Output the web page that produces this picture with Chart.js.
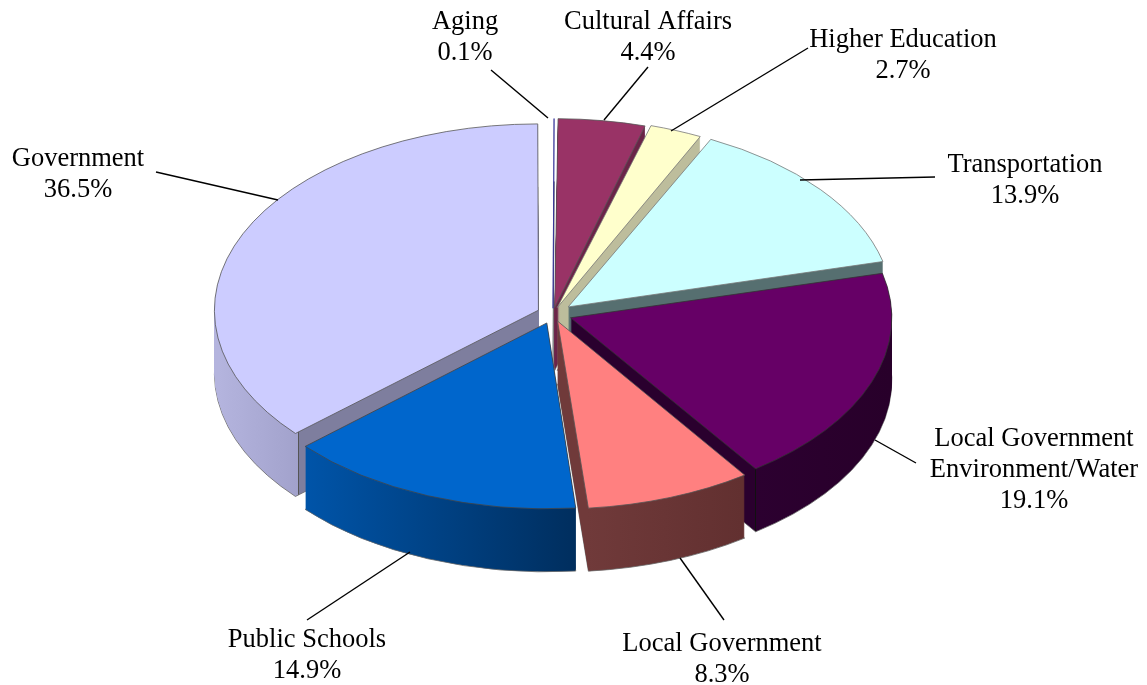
<!DOCTYPE html>
<html>
<head>
<meta charset="utf-8">
<title>Pie</title>
<script src="https://cdn.jsdelivr.net/npm/chart.js@4/dist/chart.umd.min.js"></script>
<style>
    html, body { margin: 0; padding: 0; background: #fff; }
    canvas { display: block; }
</style>
</head>
<body>
<canvas id="pie" width="1147" height="685"></canvas>
<script>
// data, clockwise from twelve o'clock
const categories = ['Aging', 'Cultural Affairs', 'Higher Education', 'Transportation',
    'Local Government\nEnvironment/Water', 'Local Government', 'Public Schools', 'Government'];
const shares = [0.1, 4.4, 2.7, 13.9, 19.1, 8.3, 14.9, 36.5];

// styling
const topColors = ['#333399', '#993366', '#FFFFCC', '#CCFFFF', '#660066', '#FF8080', '#0066CC', '#CCCCFF'];
const rimColors = ['#333399', '#555', '#777', '#777', '#333', '#555', '#444', '#555'];
const wallLight = ['#6a6a90', '#6b2448', '#bdbd9c', '#566f70', '#2c0030', '#703a3a', '#0054a8', '#b4b4de'];
const wallDark = ['#6a6a90', '#6b2448', '#bdbd9c', '#566f70', '#28002a', '#623030', '#002e5e', '#a2a2cc'];
const cutColors = ['#6a6a90', '#6b2448', '#bdbd9c', '#566f70', '#2a002e', null, null, '#7e7e9e'];
const cutEdges = ['#6a6a90', '#6b2448', '#bdbd9c', '#566f70', '#111', null, null, '#555'];
const explode = [40, 46, 48, 78, 75, 53, 67, 64];
const drawOrder = [0, 1, 2, 3, 7, 4, 6, 5];

const TILT = 0.575;
const DEPTH = 63;
const FONT = '26.5px "Liberation Serif"';
const LINE_HEIGHT = 31;

// label centre x, first line y, leader line from/to
const labelLayout = [
    { x: 465, y: 22, from: [491, 70], to: [548, 118] },
    { x: 648, y: 22, from: [648, 67], to: [604, 120] },
    { x: 903, y: 40, from: [808, 48], to: [671, 131] },
    { x: 1025, y: 165, from: [935, 177], to: [800, 180] },
    { x: 1034, y: 439, from: [916, 463], to: [875, 440] },
    { x: 722, y: 644, from: [724, 620], to: [680, 558] },
    { x: 307, y: 640, from: [307, 620], to: [410, 552] },
    { x: 78, y: 159, from: [156, 172], to: [278, 200] }
];

function wallFill(ctx, arc, i) {
    const R = arc.outerRadius, cx = arc.x;
    const xa = cx + R * Math.cos(arc.startAngle);
    const xb = cx + R * Math.cos(arc.endAngle);
    const cut = cutColors[i];
    let g;
    if (!cut) {
        g = ctx.createLinearGradient(Math.min(xa, xb), 0, Math.max(xa, xb), 0);
        g.addColorStop(0, wallLight[i]);
        g.addColorStop(1, wallDark[i]);
        return g;
    }
    // cut face on the inner side, curved wall on the outer side
    const mid = (arc.startAngle + arc.endAngle) / 2;
    const left = Math.cos(mid) < 0;
    const t = left ? (xa - cx + R) / R : (xb - cx) / R;
    const edge = 1.2 / R;
    const line = cutEdges[i];
    g = ctx.createLinearGradient(left ? cx - R : cx, 0, left ? cx : cx + R, 0);
    if (left) {
        g.addColorStop(0, wallLight[i]);
        g.addColorStop(Math.max(t - edge, 0), wallDark[i]);
        g.addColorStop(Math.max(t - edge, 0), line);
        g.addColorStop(t, line);
        g.addColorStop(t, cut);
        g.addColorStop(1, cut);
    } else {
        g.addColorStop(0, cut);
        g.addColorStop(t, cut);
        g.addColorStop(t, line);
        g.addColorStop(Math.min(t + edge, 1), line);
        g.addColorStop(Math.min(t + edge, 1), wallLight[i]);
        g.addColorStop(1, wallDark[i]);
    }
    return g;
}

function drawFlat(ctx, arc, cy, dy, overrides) {
    const keep = arc.options;
    arc.options = Object.assign({}, keep, overrides);
    ctx.save();
    ctx.translate(0, cy + dy);
    ctx.scale(1, TILT);
    ctx.translate(0, -cy);
    arc.draw(ctx);
    ctx.restore();
    arc.options = keep;
}

// the library's arcs, squashed into an ellipse and stacked to get the thickness
const tiltedPie = {
    id: 'tiltedPie',
    beforeDatasetDraw(chart, args) {
        const ctx = chart.ctx;
        const arcs = args.meta.data;
        const cy = arcs[0].y;
        drawOrder.forEach(i => {
            const arc = arcs[i];
            const fill = wallFill(ctx, arc, i);
            drawFlat(ctx, arc, cy, DEPTH, { backgroundColor: fill, borderColor: '#666', borderWidth: 1 });
            for (let d = DEPTH - 1; d > 0; d--) {
                drawFlat(ctx, arc, cy, d, { backgroundColor: fill, borderWidth: 0 });
            }
            drawFlat(ctx, arc, cy, 0, {});
        });
        return false;
    },
    afterDatasetsDraw(chart) {
        const ctx = chart.ctx;
        ctx.save();
        ctx.strokeStyle = '#000';
        ctx.lineWidth = 1.4;
        ctx.fillStyle = '#000';
        ctx.font = FONT;
        ctx.textAlign = 'center';
        ctx.textBaseline = 'middle';
        categories.forEach((name, i) => {
            const l = labelLayout[i];
            ctx.beginPath();
            ctx.moveTo(l.from[0], l.from[1]);
            ctx.lineTo(l.to[0], l.to[1]);
            ctx.stroke();
            const lines = name.split('\n').concat(shares[i].toFixed(1) + '%');
            lines.forEach((line, n) => ctx.fillText(line, l.x, l.y + n * LINE_HEIGHT));
        });
        ctx.restore();
    }
};

new Chart(document.getElementById('pie').getContext('2d'), {
    type: 'pie',
    data: {
        labels: categories,
        datasets: [{
            data: shares,
            backgroundColor: topColors,
            borderColor: rimColors,
            borderWidth: 1,
            offset: explode
        }]
    },
    options: {
        responsive: false,
        animation: false,
        radius: 320,
        layout: { padding: { right: 41, bottom: 57 } },
        plugins: { legend: { display: false }, tooltip: { enabled: false } }
    },
    plugins: [tiltedPie]
});
</script>
</body>
</html>
